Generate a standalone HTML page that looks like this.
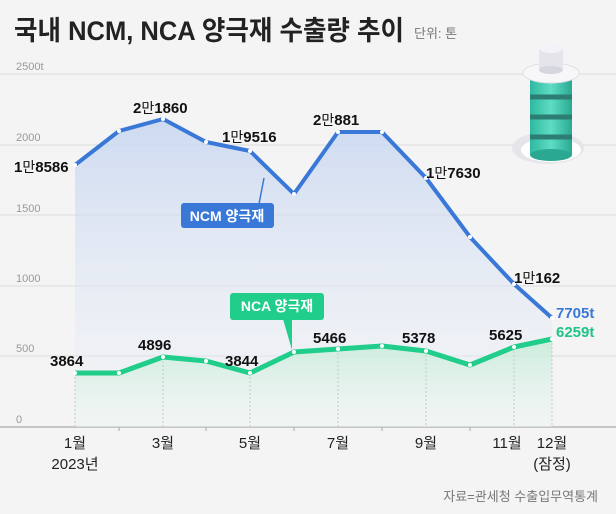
<!DOCTYPE html>
<html><head><meta charset="utf-8"><style>
html,body{margin:0;padding:0;background:#f4f4f5;}
svg{display:block;font-family:"Liberation Sans","Noto Sans CJK KR",sans-serif;}
</style></head><body>
<svg width="616" height="514" viewBox="0 0 616 514">
<defs>
<linearGradient id="gb" x1="0" y1="0" x2="0" y2="1"><stop offset="0" stop-color="#c3d4f0" stop-opacity="0.8"/><stop offset="1" stop-color="#eef1f6" stop-opacity="0.2"/></linearGradient>
<linearGradient id="gg" x1="0" y1="0" x2="0" y2="1"><stop offset="0" stop-color="#c6ecd9" stop-opacity="0.9"/><stop offset="1" stop-color="#eef7f2" stop-opacity="0.3"/></linearGradient>
<linearGradient id="bat" x1="0" y1="0" x2="1" y2="0"><stop offset="0" stop-color="#2fb8a0"/><stop offset="0.5" stop-color="#5fdcc4"/><stop offset="1" stop-color="#2aa892"/></linearGradient>
</defs>
<rect width="616" height="514" fill="#f4f4f5"/>
<text x="14" y="40" font-size="27" font-weight="bold" fill="#222" textLength="390" lengthAdjust="spacingAndGlyphs">국내 NCM, NCA 양극재 수출량 추이</text>
<text x="414" y="38" font-size="13" fill="#777">단위: 톤</text>
<g stroke="#dcdcdc" stroke-width="1">
<line x1="0" y1="74" x2="616" y2="74"/><line x1="0" y1="145" x2="616" y2="145"/>
<line x1="0" y1="215" x2="616" y2="215"/><line x1="0" y1="286" x2="616" y2="286"/>
<line x1="0" y1="356" x2="616" y2="356"/>
</g>
<line x1="0" y1="427" x2="616" y2="427" stroke="#aaa" stroke-width="1.2"/>
<g font-size="11" fill="#999">
<text x="16" y="70">2500t</text><text x="16" y="141">2000</text><text x="16" y="212">1500</text><text x="16" y="282">1000</text><text x="16" y="352">500</text><text x="16" y="423">0</text>
</g>
<g>
<ellipse cx="548" cy="148" rx="36" ry="16" fill="#e6e6ea"/>
<ellipse cx="551" cy="150" rx="30" ry="12" fill="#fff"/>
<rect x="530" y="75" width="42" height="80" fill="url(#bat)"/>
<ellipse cx="551" cy="155" rx="21" ry="6" fill="#2aa892"/>
<g stroke="#2c7d72" stroke-width="5"><line x1="530" y1="97" x2="572" y2="97"/><line x1="530" y1="117" x2="572" y2="117"/><line x1="530" y1="137" x2="572" y2="137"/></g>
<ellipse cx="551" cy="73" rx="28" ry="10" fill="#f7f7f9" stroke="#e0e0e4"/>
<rect x="539" y="48" width="24" height="22" fill="#e4e4ea"/>
<ellipse cx="551" cy="70" rx="12" ry="4" fill="#d6d6de"/>
<ellipse cx="551" cy="48" rx="12" ry="5" fill="#f3f3f7"/>
</g>
<polygon fill="url(#gb)" points="75,165 119,131 163,119 206,142 250,151 294,194 338,132 382,132 426,178 470,237 514,284 552,318 552,427 75,427"/>
<polygon fill="url(#gg)" points="75,373 119,373 163,357 206,361 250,373 294,352 338,349 382,346 426,351 470,365 514,347 552,339 552,427 75,427"/>
<g stroke="#c8c8c8" stroke-dasharray="2,2">
<line x1="75" y1="373" x2="75" y2="427"/><line x1="163" y1="357" x2="163" y2="427"/><line x1="250" y1="373" x2="250" y2="427"/><line x1="338" y1="349" x2="338" y2="427"/><line x1="426" y1="351" x2="426" y2="427"/><line x1="514" y1="347" x2="514" y2="427"/><line x1="552" y1="339" x2="552" y2="427"/>
</g>
<g stroke="#aaa"><line x1="119" y1="427" x2="119" y2="431"/><line x1="206" y1="427" x2="206" y2="431"/><line x1="294" y1="427" x2="294" y2="431"/><line x1="382" y1="427" x2="382" y2="431"/><line x1="470" y1="427" x2="470" y2="431"/></g>
<polyline fill="none" stroke="#3a78d8" stroke-width="4" stroke-linejoin="round" points="75,165 119,131 163,119 206,142 250,151 294,194 338,132 382,132 426,178 470,237 514,284 552,318"/>
<polyline fill="none" stroke="#20cd8a" stroke-width="5" stroke-linejoin="round" points="75,373 119,373 163,357 206,361 250,373 294,352 338,349 382,346 426,351 470,365 514,347 552,339"/>
<g fill="#fff">
<circle cx="75" cy="165" r="2"/><circle cx="119" cy="131" r="2"/><circle cx="163" cy="119" r="2"/><circle cx="206" cy="142" r="2"/><circle cx="250" cy="151" r="2"/><circle cx="294" cy="194" r="2"/><circle cx="338" cy="132" r="2"/><circle cx="382" cy="132" r="2"/><circle cx="426" cy="178" r="2"/><circle cx="470" cy="237" r="2"/><circle cx="514" cy="284" r="2"/><circle cx="552" cy="318" r="2"/>
<circle cx="75" cy="373" r="2"/><circle cx="119" cy="373" r="2"/><circle cx="163" cy="357" r="2"/><circle cx="206" cy="361" r="2"/><circle cx="250" cy="373" r="2"/><circle cx="294" cy="352" r="2"/><circle cx="338" cy="349" r="2"/><circle cx="382" cy="346" r="2"/><circle cx="426" cy="351" r="2"/><circle cx="470" cy="365" r="2"/><circle cx="514" cy="347" r="2"/><circle cx="552" cy="339" r="2"/>
</g>
<g font-size="15" fill="#111" font-weight="bold">
<text x="14" y="172">1<tspan font-weight="normal" font-size="14">만</tspan>8586</text>
<text x="133" y="113">2<tspan font-weight="normal" font-size="14">만</tspan>1860</text>
<text x="222" y="142">1<tspan font-weight="normal" font-size="14">만</tspan>9516</text>
<text x="313" y="125">2<tspan font-weight="normal" font-size="14">만</tspan>881</text>
<text x="426" y="178">1<tspan font-weight="normal" font-size="14">만</tspan>7630</text>
<text x="514" y="283">1<tspan font-weight="normal" font-size="14">만</tspan>162</text>
<text x="50" y="366">3864</text><text x="138" y="350">4896</text><text x="225" y="366">3844</text>
<text x="313" y="343">5466</text><text x="402" y="343">5378</text><text x="489" y="340">5625</text>
</g>
<text x="556" y="318" font-size="15" font-weight="bold" fill="#3a78d8">7705t</text>
<text x="556" y="337" font-size="15" font-weight="bold" fill="#20c485">6259t</text>
<line x1="264" y1="178" x2="259" y2="204" stroke="#3a78d8" stroke-width="1.5"/>
<rect x="181" y="203" width="93" height="25" rx="3" fill="#3a78d8"/>
<text x="227" y="221" font-size="14" font-weight="bold" fill="#fff" text-anchor="middle">NCM 양극재</text>
<rect x="230" y="293" width="94" height="27" rx="3" fill="#20cd8a"/>
<polygon points="283,319 292,319 292,350" fill="#20cd8a"/>
<text x="277" y="311" font-size="14" font-weight="bold" fill="#fff" text-anchor="middle">NCA 양극재</text>
<g font-size="15" fill="#222" text-anchor="middle">
<text x="75" y="448">1월</text><text x="75" y="469">2023년</text>
<text x="163" y="448">3월</text><text x="250" y="448">5월</text><text x="338" y="448">7월</text><text x="426" y="448">9월</text><text x="507" y="448">11월</text>
<text x="552" y="448">12월</text><text x="552" y="469">(잠정)</text>
</g>
<text x="598" y="501" font-size="13" fill="#777" text-anchor="end">자료=관세청 수출입무역통계</text>
</svg>
</body></html>
